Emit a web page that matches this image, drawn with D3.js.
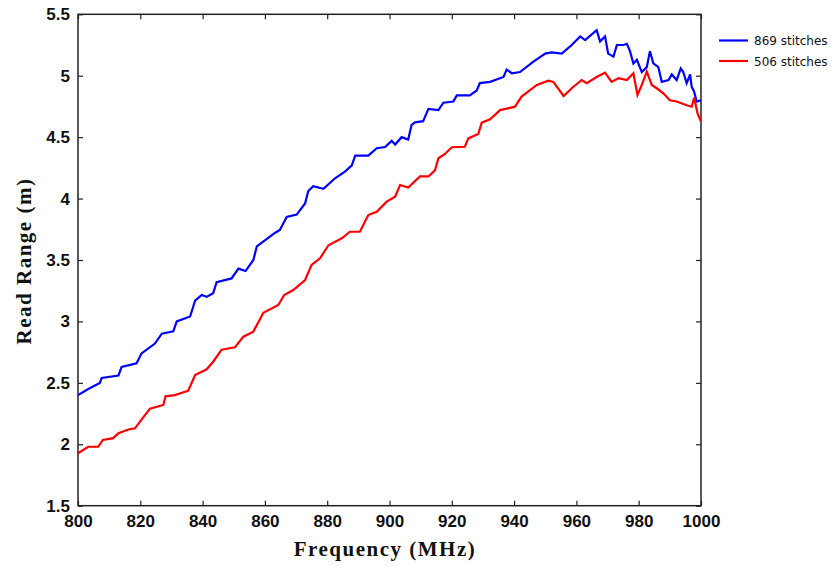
<!DOCTYPE html>
<html>
<head>
<meta charset="utf-8">
<script src="https://cdn.jsdelivr.net/npm/d3@7"></script>
<style>
  html, body { margin: 0; padding: 0; background: #fff; }
  svg { display: block; }
</style>
</head>
<body>
<svg id="chart" width="839" height="566"></svg>
<script>
// ---- data ----
const seriesNames = ["869 stitches", "506 stitches"];
const seriesColors = ["#0000ff", "#ff0000"];

const freq869 = [800,803.3,807,807.6,813,814,818.8,820.4,824.7,826.9,830.6,831.7,836,837.6,839.7,841.3,843.4,844.5,849.3,851.5,853.8,856.3,857.4,860,863.2,864.8,867,870.2,872.9,873.9,875.5,878.8,882.5,885.7,887.9,889,893.2,895.9,898.6,900.7,901.8,903.9,906,907.1,908.2,910.8,912.5,915.7,917.3,920.5,921.6,925.8,928,929,932.3,936.6,937.6,939.3,941.9,946.2,950,952.1,955.3,958.5,961.2,962.8,966.5,967.6,969.2,970.2,971.9,973,975.1,976.2,977.2,978.3,979.4,981,982.6,983.6,984.7,986.3,987.4,989.6,990.6,992.2,993.5,994.3,995.4,996.5,997,997.8,998.6,1000];
const range869 = [2.40,2.45,2.50,2.54,2.56,2.63,2.66,2.74,2.82,2.90,2.92,3.00,3.04,3.17,3.215,3.20,3.23,3.32,3.35,3.43,3.41,3.50,3.61,3.66,3.72,3.744,3.85,3.87,3.96,4.06,4.10,4.08,4.165,4.22,4.27,4.35,4.35,4.41,4.42,4.47,4.44,4.50,4.48,4.60,4.62,4.63,4.73,4.72,4.78,4.79,4.84,4.84,4.88,4.94,4.95,4.99,5.05,5.02,5.03,5.115,5.18,5.19,5.18,5.25,5.32,5.29,5.37,5.28,5.32,5.18,5.155,5.25,5.25,5.26,5.20,5.10,5.13,5.03,5.07,5.20,5.10,5.07,4.95,4.965,5.01,4.965,5.06,5.03,4.94,5.01,4.91,4.87,4.79,4.80];

const freq506 = [800,803.3,806.5,808,811.3,813,816.2,818.3,820.4,823.1,827.4,828.1,831.1,835.4,837.6,841.3,843.4,846.1,850.4,853.1,856.3,859.5,864.3,866.2,869.1,872.9,875,877.7,880.4,884.7,887.3,890.5,893.2,895.9,899.1,901.8,903.4,906,909.8,912.5,914.6,915.7,917.8,920,924.2,925.3,928.5,929.6,932.3,935.5,940.3,942.4,947.3,951,952.6,955.9,958.5,961.7,963.3,966.5,969.2,971.3,973.5,976.2,978.3,979.6,981,982.6,984.2,985.8,987.9,990,992.2,995.4,997,997.8,998.9,1000];
const range506 = [1.927,1.98,1.98,2.035,2.05,2.09,2.12,2.13,2.20,2.29,2.32,2.39,2.40,2.436,2.564,2.61,2.672,2.77,2.79,2.876,2.917,3.07,3.134,3.215,3.256,3.337,3.46,3.514,3.62,3.677,3.73,3.73,3.866,3.893,3.975,4.015,4.11,4.09,4.18,4.18,4.23,4.328,4.363,4.418,4.422,4.49,4.526,4.618,4.646,4.72,4.748,4.83,4.925,4.96,4.95,4.835,4.898,4.965,4.94,4.99,5.025,4.95,4.98,4.965,5.02,4.843,4.925,5.033,4.925,4.898,4.857,4.80,4.79,4.76,4.748,4.82,4.694,4.626];

const xTicks = [800,820,840,860,880,900,920,940,960,980,1000];
const yTicks = [1.5,2,2.5,3,3.5,4,4.5,5,5.5];
const xTitle = "Frequency (MHz)";
const yTitle = "Read Range (m)";

// ---- layout ----
const svg = d3.select("#chart");
const L = 78, R = 701, T = 14.3, B = 505.7;

const x = d3.scaleLinear().domain([800, 1000]).range([L, R]);
const y = d3.scaleLinear().domain([1.5, 5.5]).range([B, T]);

const axisColor = "#222";
const tickFont = "bold 17px 'Liberation Sans', Arial, sans-serif";

function styleAxis(g) {
  g.select(".domain").remove();
  g.selectAll(".tick line").attr("stroke", axisColor).attr("stroke-width", 1.2);
  g.selectAll(".tick text").style("font", tickFont).attr("fill", "#111");
}

// bottom axis (ticks inward)
svg.append("g").attr("transform", `translate(0,${B})`)
  .call(d3.axisBottom(x).tickValues(xTicks).tickSize(-5).tickPadding(9).tickFormat(d3.format("d")))
  .call(styleAxis);
// top axis ticks
svg.append("g").attr("transform", `translate(0,${T})`)
  .call(d3.axisTop(x).tickValues(xTicks).tickSize(-5).tickFormat(""))
  .call(styleAxis);
// left axis
svg.append("g").attr("transform", `translate(${L},0)`)
  .call(d3.axisLeft(y).tickValues(yTicks).tickSize(-5).tickPadding(8).tickFormat(d => String(d)))
  .call(styleAxis);
// right axis ticks
svg.append("g").attr("transform", `translate(${R},0)`)
  .call(d3.axisRight(y).tickValues(yTicks).tickSize(-5).tickFormat(""))
  .call(styleAxis);

// frame
svg.append("rect").attr("x", L).attr("y", T).attr("width", R - L).attr("height", B - T)
  .attr("fill", "none").attr("stroke", axisColor).attr("stroke-width", 1.5);

// lines
const line = d3.line().x(d => x(d[0])).y(d => y(d[1]));
const series = [
  d3.zip(freq869, range869),
  d3.zip(freq506, range506)
];
series.forEach((s, i) => {
  svg.append("path").datum(s)
    .attr("fill", "none")
    .attr("stroke", seriesColors[i])
    .attr("stroke-width", 2.2)
    .attr("stroke-linejoin", "miter")
    .attr("d", line);
});

// axis titles
const titleFont = "bold 21px 'Liberation Serif', 'Times New Roman', serif";
svg.append("text")
  .attr("x", 385).attr("y", 556)
  .attr("text-anchor", "middle")
  .style("font", titleFont)
  .style("letter-spacing", "1.5px")
  .attr("fill", "#111")
  .text(xTitle);

svg.append("text")
  .attr("transform", `translate(31,261) rotate(-90)`)
  .attr("text-anchor", "middle")
  .style("font", titleFont)
  .style("letter-spacing", "1.5px")
  .attr("fill", "#111")
  .text(yTitle);

// legend
const legend = svg.append("g");
seriesNames.forEach((name, i) => {
  const ly = 40.5 + i * 20.5;
  legend.append("line").attr("x1", 719).attr("x2", 748).attr("y1", ly).attr("y2", ly)
    .attr("stroke", seriesColors[i]).attr("stroke-width", 2.2);
  legend.append("text").attr("x", 754).attr("y", ly + 4.5)
    .style("font", "12px 'DejaVu Sans', Verdana, sans-serif")
    .attr("fill", "#111")
    .text(name);
});
</script>
</body>
</html>
